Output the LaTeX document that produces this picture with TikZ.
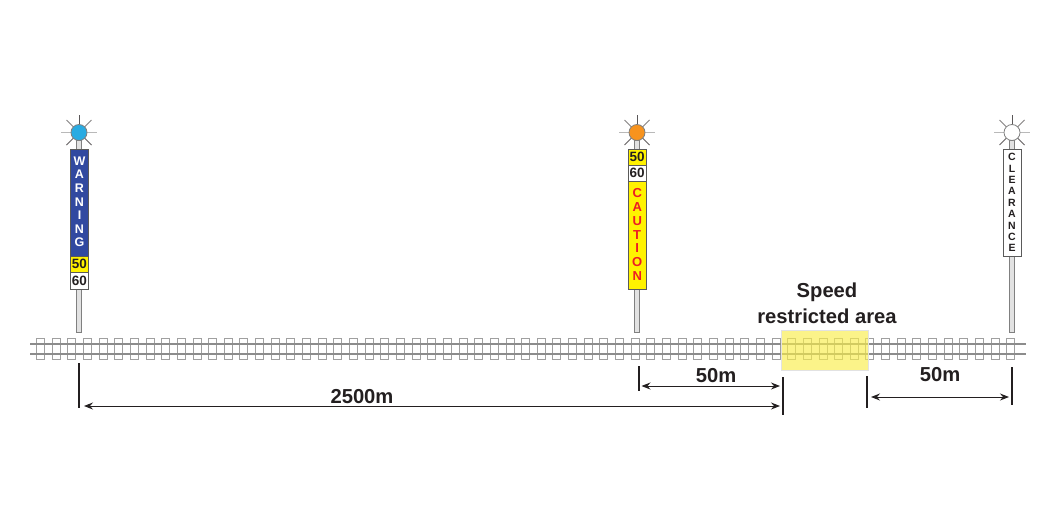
\documentclass[tikz,border=0pt]{standalone}
\usepackage{fontspec}
\setmainfont{Liberation Sans}
\usetikzlibrary{arrows.meta}
\definecolor{railc}{HTML}{8C8C8C}
\definecolor{tiec}{HTML}{A0A0A0}
\definecolor{postc}{HTML}{E2E2E2}
\definecolor{postd}{HTML}{808080}
\definecolor{darkc}{HTML}{231F20}
\definecolor{bluesign}{HTML}{3149A0}
\definecolor{yellowsign}{HTML}{FFF200}
\definecolor{cautionred}{HTML}{ED1C24}
\definecolor{lampblue}{HTML}{29ABE2}
\definecolor{lamporange}{HTML}{F7931E}
\definecolor{zonec}{HTML}{F9EE4A}
\tikzset{
  x=1pt,y=-1pt,
  railline/.style={draw=railc,line width=1.3pt},
  tie/.style={draw=tiec,line width=1pt},
  post/.style={draw=postd,fill=postc,line width=0.8pt},
  signbox/.style={draw=postd!70!black,line width=0.8pt},
  ray/.style={draw=#1,line width=1.6pt},
  lamp/.style={draw=#1,line width=0.8pt},
  dimbar/.style={draw=darkc,line width=2pt},
  dimarrow/.style={draw=darkc,line width=1pt,{Stealth[length=9pt,width=7pt,inset=3pt]}-{Stealth[length=9pt,width=7pt,inset=3pt]}},
  biglabel/.style={font=\fontsize{20.2}{24}\selectfont\bfseries,text=darkc,inner sep=0pt},
  numlabel/.style={font=\fontsize{13.5}{14}\selectfont\bfseries,text=darkc,inner sep=0pt},
  letter/.style={font=\fontsize{#1}{#1}\selectfont\bfseries,inner sep=0pt,anchor=center},
}
\newcommand{\lampat}[3]{% x, name, fill
  \draw[ray=postd!55] (#1-18,132.5) -- (#1+18,132.5);
  \draw[ray=darkc!75,line width=1pt] (#1,115) -- (#1,132.5);
  \foreach \dx/\dy in {-1/-1,1/-1}
    \draw[ray=darkc!55,line width=1pt] (#1+12.5*\dx,132.5+12.5*\dy) -- (#1,132.5);
  \foreach \dx/\dy in {-1/1,1/1}
    \draw[ray=darkc!70,line width=1pt] (#1+12.5*\dx,132.5+12.5*\dy) -- (#1,132.5);
  \node[circle,lamp=postd,fill=#3,minimum size=16pt,inner sep=0pt] (#2) at (#1,132.5) {};
}
\begin{document}
\begin{tikzpicture}
\useasboundingbox (0,0) rectangle (1060,530);
\fill[white] (0,0) rectangle (1060,530);
% ties
\foreach \i in {0,...,62}
  \draw[tie] ({36.5+15.65*\i},338.5) rectangle ({44.5+15.65*\i},359.5);
% rails
\draw[railline] (30,344) -- (1026,344);
\draw[railline] (30,354) -- (1026,354);
% posts
\draw[post] (76.8,140) rectangle (81.8,332);
\draw[post] (634.5,140) rectangle (639.5,332);
\draw[post] (1009.5,140) rectangle (1014.5,332);
% lamps
\lampat{79}{lampA}{lampblue}
\lampat{637}{lampB}{lamporange}
\lampat{1012}{lampC}{white}
% warning sign
\draw[signbox,fill=bluesign] (70.5,149) rectangle (88.5,256);
\draw[signbox,fill=yellowsign] (70.5,256) rectangle (88.5,272.5);
\draw[signbox,fill=white] (70.5,272.5) rectangle (88.5,289);
\foreach \c [count=\n from 0] in {W,A,R,N,I,N,G}
  \node[letter=12.5,text=white] (w\n) at (79.5,{161+13.6*\n}) {\c};
\node[numlabel] (wf) at (79.5,264.2) {50};
\node[numlabel] (ws) at (79.5,280.8) {60};
% caution sign
\draw[signbox,fill=yellowsign] (628,149) rectangle (646.5,165);
\draw[signbox,fill=white] (628,165) rectangle (646.5,181);
\draw[signbox,fill=yellowsign] (628,181) rectangle (646.5,289);
\node[numlabel] (cf) at (637.2,157.2) {50};
\node[numlabel] (cs) at (637.2,173.2) {60};
\foreach \c [count=\n from 0] in {C,A,U,T,I,O,N}
  \node[letter=13,text=cautionred] (c\n) at (637.2,{193+13.85*\n}) {\c};
% clearance sign
\draw[signbox,fill=white] (1003,149) rectangle (1021.5,256);
\foreach \c [count=\n from 0] in {C,L,E,A,R,A,N,C,E}
  \node[letter=10.5,text=darkc] (l\n) at (1012,{157+11.4*\n}) {\c};
% restricted zone
\draw[draw=postc,line width=0.8pt,fill=zonec,fill opacity=0.65] (781.5,330.5) rectangle (868,370.5);
\node[biglabel] (zone1) at (827,292) {Speed};
\node[biglabel] (zone2) at (827,316) {restricted area};
% dimensions
\coordinate (a1) at (79,363); \coordinate (a2) at (79,408);
\coordinate (b1) at (639,366); \coordinate (b2) at (639,391);
\coordinate (c1) at (782.5,377); \coordinate (c2) at (782.5,415);
\coordinate (d1) at (867,376); \coordinate (d2) at (867,408);
\coordinate (e1) at (1012,367); \coordinate (e2) at (1012,405);
\draw[dimbar] (a1) -- (a2);
\draw[dimbar] (b1) -- (b2);
\draw[dimbar] (c1) -- (c2);
\draw[dimbar] (d1) -- (d2);
\draw[dimbar] (e1) -- (e2);
\coordinate (p1) at (84,406); \coordinate (p2) at (780,406);
\coordinate (q1) at (641.5,386); \coordinate (q2) at (780,386);
\coordinate (r1) at (871,397); \coordinate (r2) at (1009,397);
\draw[dimarrow] (p1) -- (p2);
\draw[dimarrow] (q1) -- (q2);
\draw[dimarrow] (r1) -- (r2);
\node[biglabel] (m2500) at (362,397) {2500m};
\node[biglabel] (m50a) at (716,376) {50m};
\node[biglabel] (m50b) at (940,375) {50m};
\end{tikzpicture}
\end{document}
